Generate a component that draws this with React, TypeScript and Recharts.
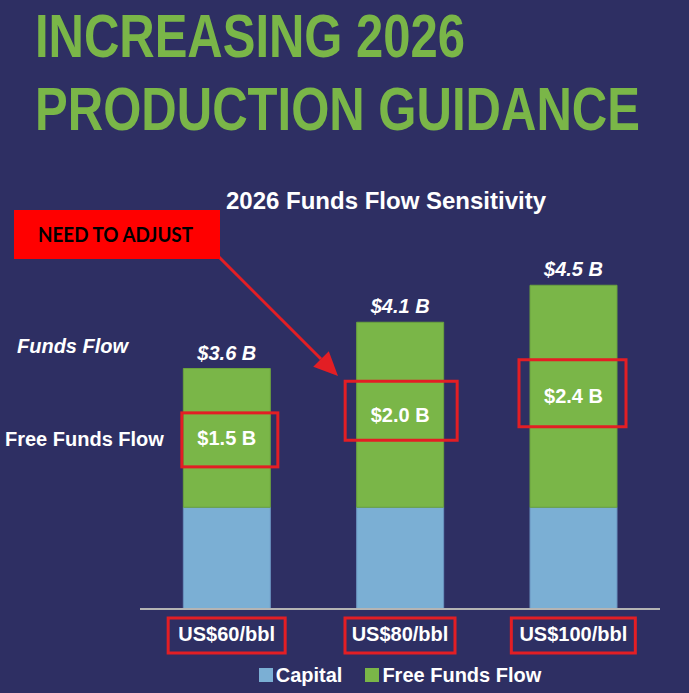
import React from 'react';
import { BarChart, Bar, XAxis, YAxis, Legend, LabelList } from 'recharts';

const categories = ['US$60/bbl', 'US$80/bbl', 'US$100/bbl'];
const capital = [2.1, 2.1, 2.1];
const freeFundsFlow = [1.5, 2.0, 2.4];
const seriesNames = ['Capital', 'Free Funds Flow'];

const BG = '#2e2f63';
const GREEN = '#7ab648';
const BLUE = '#7bafd4';
const RED = '#e31e24';
const FONT = '"Liberation Sans", Arial, Helvetica, sans-serif';

// hand-drawn red boxes (annotation only)
const valueBox = [
  { w: 96, h: 54, dx: 3, dy: 2 },
  { w: 112, h: 59, dx: 1, dy: -4 },
  { w: 107, h: 67, dx: -1, dy: -3 },
];
const tickBoxW = [117, 110, 124];

const data = categories.map((c, i) => ({
  name: c,
  capital: capital[i],
  free: freeFundsFlow[i],
  total: +(capital[i] + freeFundsFlow[i]).toFixed(1),
}));

const TotalLabel = (props: any) => {
  const { x, y, width, index } = props;
  const d = data[index];
  return (
    <text x={x + width / 2} y={y - 9} textAnchor="middle" fill="#fff" fontFamily={FONT}
      fontSize={20} fontWeight="bold" fontStyle="italic">
      {`$${d.total.toFixed(1)} B`}
    </text>
  );
};

const FreeLabel = (props: any) => {
  const { x, y, width, height, index } = props;
  const cx = x + width / 2;
  const cy = y + height / 2;
  const b = valueBox[index];
  return (
    <g>
      <text x={cx} y={cy + 7} textAnchor="middle" fill="#fff" fontFamily={FONT}
        fontSize={20} fontWeight="bold">
        {`$${freeFundsFlow[index].toFixed(1)} B`}
      </text>
      <rect x={cx + b.dx - b.w / 2} y={cy + b.dy - b.h / 2} width={b.w} height={b.h}
        fill="none" stroke={RED} strokeWidth={3} />
    </g>
  );
};

const Tick = (props: any) => {
  const { x, y, payload, index } = props;
  const w = tickBoxW[index] || 112;
  return (
    <g>
      <rect x={x - w / 2} y={y + 9} width={w} height={35} fill="none" stroke={RED} strokeWidth={3} />
      <text x={x} y={y + 32} textAnchor="middle" fill="#fff" fontFamily={FONT}
        fontSize={20} fontWeight="bold">
        {payload.value}
      </text>
    </g>
  );
};

const LegendContent = () => (
  <div style={{ display: 'flex', justifyContent: 'center', alignItems: 'center', height: 28,
    fontFamily: FONT, fontSize: 20, fontWeight: 'bold', color: '#fff' }}>
    {seriesNames.map((n, i) => (
      <div key={n} style={{ display: 'flex', alignItems: 'center', marginRight: i === 0 ? 23 : 0 }}>
        <span style={{ width: 14, height: 14, background: i === 0 ? BLUE : GREEN, marginRight: 3 }} />
        <span>{n}</span>
      </div>
    ))}
  </div>
);

// arrow from callout to the middle bar
const ax1 = 218, ay1 = 256, ax2 = 338, ay2 = 376;
const ang = Math.atan2(ay2 - ay1, ax2 - ax1);
const headL = 24, headW = 11;
const bx = ax2 - headL * Math.cos(ang), by = ay2 - headL * Math.sin(ang);
const arrowHead = [
  [ax2, ay2],
  [bx + headW * Math.sin(ang), by - headW * Math.cos(ang)],
  [bx - headW * Math.sin(ang), by + headW * Math.cos(ang)],
].map(p => p.join(',')).join(' ');

const SX = 0.79; // narrow headline

export default function App() {
  return (
    <div style={{ position: 'absolute', left: 0, top: 0, width: 689, height: 693, background: BG, overflow: 'hidden' }}>
      <BarChart width={689} height={693} data={data}
        margin={{ top: 239, right: 29, bottom: 26, left: 140 }} barCategoryGap="25%">
        <YAxis hide domain={[1, 5]} allowDataOverflow />
        <XAxis dataKey="name" height={30} tickSize={0} tickMargin={0} tickLine={false}
          axisLine={{ stroke: '#b4b4b4', strokeWidth: 2 }} tick={<Tick />} interval={0} />
        <Legend verticalAlign="bottom" wrapperStyle={{ bottom: 4, left: 140, width: 520 }}
          content={<LegendContent />} />
        <Bar dataKey="capital" name="Capital" stackId="a" fill={BLUE} stroke="#6a93c0" strokeWidth={1}
          isAnimationActive={false} />
        <Bar dataKey="free" name="Free Funds Flow" stackId="a" fill={GREEN} stroke="#6aa23e" strokeWidth={1}
          isAnimationActive={false}>
          <LabelList dataKey="total" content={<TotalLabel />} />
          <LabelList dataKey="free" content={<FreeLabel />} />
        </Bar>
      </BarChart>

      <svg width={689} height={693} style={{ position: 'absolute', left: 0, top: 0, pointerEvents: 'none' }}>
        <g fill={GREEN} fontFamily={FONT} fontWeight="bold" fontSize={61} transform={`scale(${SX},1)`}>
          <text x={35 / SX} y={57} textLength={430 / SX} lengthAdjust="spacingAndGlyphs">INCREASING 2026</text>
          <text x={35 / SX} y={130} textLength={605 / SX} lengthAdjust="spacingAndGlyphs">PRODUCTION GUIDANCE</text>
        </g>
        <text x={386} y={209} textAnchor="middle" fill="#fff" fontFamily={FONT} fontWeight="bold" fontSize={24}>
          2026 Funds Flow Sensitivity
        </text>
        <text x={17} y={353} fill="#fff" fontFamily={FONT} fontWeight="bold" fontStyle="italic" fontSize={20}>
          Funds Flow
        </text>
        <text x={5} y={446} fill="#fff" fontFamily={FONT} fontWeight="bold" fontSize={20}>
          Free Funds Flow
        </text>
        <line x1={ax1} y1={ay1} x2={bx} y2={by} stroke={RED} strokeWidth={3} />
        <polygon points={arrowHead} fill={RED} />
        <rect x={14} y={210} width={206} height={49} fill="#ff0000" />
        <text x={38} y={242} fill="#000" fontFamily='Lato, "Open Sans", sans-serif' fontWeight="bold"
          fontSize={21} textLength={155} lengthAdjust="spacingAndGlyphs">
          NEED TO ADJUST
        </text>
      </svg>
    </div>
  );
}
